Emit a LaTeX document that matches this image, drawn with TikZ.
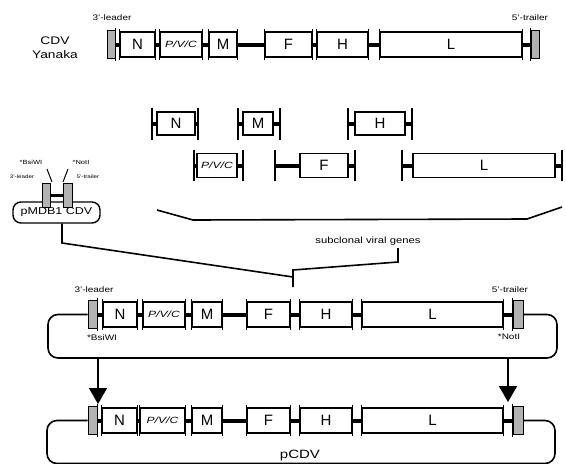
\documentclass[tikz,border=0pt]{standalone}
\usepackage{fontspec}
\usepackage{graphicx}
\setmainfont{Liberation Sans}
\usetikzlibrary{arrows.meta}
\newcommand\gbx[6]{\node[gene, minimum width={(#3-#2)*1pt}, minimum height={#5*1pt}] (#1) at ({(#2+#3)/2},#4) {#6};}
\newcommand\grx[5]{\node[grayb, minimum width={(#3-#2)*1pt}, minimum height={#5*1pt}] (#1) at ({(#2+#3)/2},#4) {};}
\newcommand\lkx[2]{\draw[link] (#1.east) -- (#2.west);
  \draw[tick] ([yshift=2pt]#1.north east) -- ([yshift=-2pt]#1.south east);
  \draw[tick] ([yshift=2pt]#2.north west) -- ([yshift=-2pt]#2.south west);}
\newcommand\subx[9]{\gbx{#1}{#3}{#4}{#6}{#7}{#8}
  \coordinate (#1l) at (#2,#6); \coordinate (#1r) at (#5,#6);
  \draw[link] (#1l) -- (#1.west); \draw[link] (#1.east) -- (#1r);
  \draw[tick] ([yshift=#9pt]#1l) -- ([yshift=-#9pt]#1l);
  \draw[tick] ([yshift=#9pt]#1r) -- ([yshift=-#9pt]#1r);}
\newcommand\pvctxt{\scalebox{1.35}[1]{\fontsize{9}{9}\selectfont\itshape P/V/C}}
\newcommand\wdtxt[1]{\scalebox{1.25}[1]{#1}}
\begin{document}
\begin{tikzpicture}[x=1pt,y=-1pt,
  gene/.style={draw, line width=1.6pt, fill=white, inner sep=0pt, font=\fontsize{15}{15}\selectfont},
  grayb/.style={draw, line width=1pt, fill=gray!60, inner sep=0pt},
  link/.style={line width=4pt},
  tick/.style={line width=1.1pt},
  wire/.style={line width=1.6pt, rounded corners=10pt},
  lbl/.style={inner sep=0pt, font=\fontsize{8}{8}\selectfont},
  slbl/.style={inner sep=0pt, font=\fontsize{6}{6}\selectfont},
  arr/.style={line width=1.6pt, -{Triangle[width=18pt,length=16pt]}}]
\useasboundingbox (0,0) rectangle (566,464);

% ---- top: CDV Yanaka
\node[inner sep=0pt, align=center, font=\fontsize{11}{14}\selectfont] (cdv) at (55,48) {\wdtxt{CDV}\\\wdtxt{Yanaka}};
\grx{tLd}{107}{115}{44.5}{28}
\gbx{tN}{120}{155}{44.5}{25}{N}
\gbx{tP}{160}{202}{44.5}{25}{\pvctxt}
\gbx{tM}{209}{237}{44.5}{25}{M}
\gbx{tF}{265}{312}{44.5}{25}{F}
\gbx{tH}{317}{368}{44.5}{25}{H}
\gbx{tL}{380}{522}{44.5}{25}{L}
\grx{tTr}{531}{539}{44.5}{28}
\lkx{tLd}{tN}\lkx{tN}{tP}\lkx{tP}{tM}\lkx{tM}{tF}\lkx{tF}{tH}\lkx{tH}{tL}\lkx{tL}{tTr}
\node[lbl] (tlead) at (112,18) {\wdtxt{3'-leader}};
\node[lbl] (ttrail) at (530,18) {\wdtxt{5'-trailer}};

% ---- subclones
\subx{sN}{152}{157}{195}{198}{123.5}{23}{N}{16}
\subx{sM}{238}{243}{273}{280}{123.5}{23}{M}{16}
\subx{sH}{348}{355}{405}{412}{123.5}{23}{H}{16}
\subx{sP}{194}{197}{237}{243}{165.5}{24}{\pvctxt}{15.5}
\subx{sF}{275}{300}{348}{355}{165.5}{24}{F}{15.5}
\subx{sL}{402}{413}{555}{562}{165.5}{24}{L}{15.5}

% ---- brace
\coordinate (b1) at (157,210); \coordinate (b2) at (193,220);
\coordinate (b3) at (527,219); \coordinate (b4) at (562,207);
\draw[line width=1.6pt] (b1) -- (b2) -- (b3) -- (b4);
\node[inner sep=0pt, font=\fontsize{9}{9}\selectfont] (svg) at (368,241) {\wdtxt{subclonal viral genes}};

% ---- pMDB1 CDV
\node[draw, line width=1.4pt, rounded corners=8pt, minimum width=87pt, minimum height=21pt, inner sep=0pt,
      font=\fontsize{10}{10}\selectfont, fill=white] (pm) at (56.5,212.5) {\wdtxt{pMDB1 CDV}};
\grx{pL}{42}{50}{195}{24}
\grx{pR}{63}{72}{195}{24}
\draw[link, line width=3pt] (pL.east) -- (pR.west);
\node[slbl] (pbs) at (31,162) {\wdtxt{*BsiWI}};
\node[slbl] (pno) at (81,162) {\wdtxt{*NotI}};
\node[slbl, font=\fontsize{5}{5}\selectfont] (plead) at (22,177) {\wdtxt{3'-leader}};
\node[slbl, font=\fontsize{5}{5}\selectfont] (ptrail) at (88,177) {\wdtxt{5'-trailer}};
\coordinate (d1) at (47,169); \coordinate (d2) at (52,182);
\coordinate (d3) at (68,169); \coordinate (d4) at (63,182);
\draw[line width=1pt] (d1) -- (d2);
\draw[line width=1pt] (d3) -- (d4);

% ---- joining lines
\coordinate (j0) at (62,243); \coordinate (jm) at (293,277);
\coordinate (r1) at (398,248); \coordinate (r2) at (398,262);
\coordinate (r3) at (293,270); \coordinate (r4) at (293,287);
\draw[line width=1.6pt] (pm.south -| j0) -- (j0) -- (jm);
\draw[line width=1.6pt] (r1) -- (r2) -- (r3) -- (r4);

% ---- assembled construct in plasmid
\grx{bLd}{88}{97}{314.5}{28}
\gbx{bN}{103}{137}{314.5}{25}{N}
\gbx{bP}{143}{185}{314.5}{25}{\pvctxt}
\gbx{bM}{192}{222}{314.5}{25}{M}
\gbx{bF}{247}{290}{314.5}{25}{F}
\gbx{bH}{300}{352}{314.5}{25}{H}
\gbx{bL}{362}{503}{314.5}{25}{L}
\grx{bTr}{513}{523}{314.5}{28}
\lkx{bLd}{bN}\lkx{bN}{bP}\lkx{bP}{bM}\lkx{bM}{bF}\lkx{bF}{bH}\lkx{bH}{bL}\lkx{bL}{bTr}
\draw[wire] (bLd.west) -- (48,314.5) -- (48,358) -- (557,358) -- (557,314.5) -- (bTr.east);
\node[lbl] (blead) at (94,290) {\wdtxt{3'-leader}};
\node[lbl] (btrail) at (510,290) {\wdtxt{5'-trailer}};
\node[lbl] (bbs) at (102,338) {\wdtxt{*BsiWI}};
\node[lbl] (bno) at (509,337) {\wdtxt{*NotI}};

% ---- arrows
\coordinate (a1) at (98,358); \coordinate (a1e) at (98,404);
\coordinate (a2) at (508,358); \coordinate (a2e) at (508,402);
\draw[arr] (a1) -- (a1e);
\draw[arr] (a2) -- (a2e);

% ---- pCDV
\grx{cLd}{88}{97}{420.5}{28}
\gbx{cN}{102}{137}{420.5}{25}{N}
\gbx{cP}{140}{185}{420.5}{25}{\pvctxt}
\gbx{cM}{192}{222}{420.5}{25}{M}
\gbx{cF}{247}{290}{420.5}{25}{F}
\gbx{cH}{300}{352}{420.5}{25}{H}
\gbx{cL}{362}{503}{420.5}{25}{L}
\grx{cTr}{513}{523}{420.5}{28}
\lkx{cLd}{cN}\lkx{cN}{cP}\lkx{cP}{cM}\lkx{cM}{cF}\lkx{cF}{cH}\lkx{cH}{cL}\lkx{cL}{cTr}
\draw[wire] (cLd.west) -- (47,420.5) -- (47,463.5) -- (555,463.5) -- (555,420.5) -- (cTr.east);
\node[inner sep=0pt, font=\fontsize{12}{12}\selectfont] (pcdv) at (300,456) {\wdtxt{pCDV}};
\end{tikzpicture}
\end{document}
